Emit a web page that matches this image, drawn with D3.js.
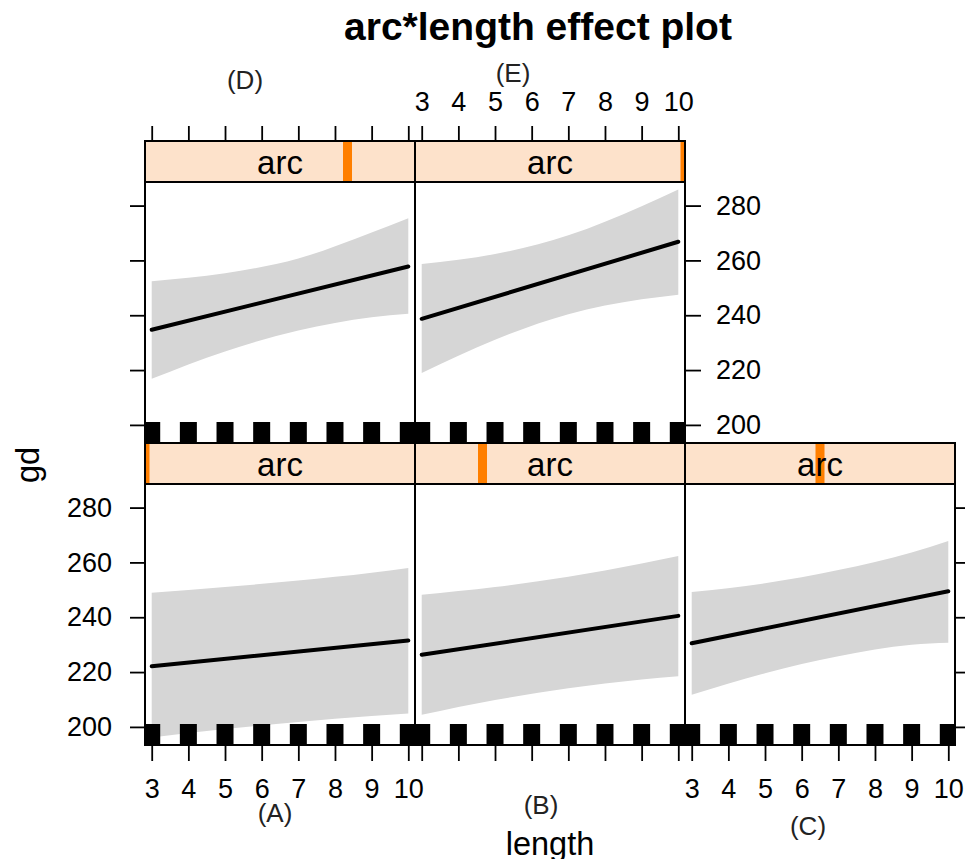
<!DOCTYPE html>
<html>
<head>
<meta charset="utf-8">
<script src="https://cdn.jsdelivr.net/npm/d3@7"></script>
<style>
  html, body { margin: 0; padding: 0; background: #fff; }
  svg { display: block; font-family: "Liberation Sans", Arial, Helvetica, sans-serif; }
</style>
</head>
<body>
<svg id="chart" width="965" height="859"></svg>
<script>
// ---------------- data ----------------
const lengthTicks = [3, 4, 5, 6, 7, 8, 9, 10];
const gdTicks = [200, 220, 240, 260, 280];
const rugLength = [3, 4, 5, 6, 7, 8, 9, 10];
const panelNames = ["A", "B", "C", "D", "E"];
const arcLevel = [0, 0.25, 0.5, 0.75, 1];   // position of arc value within its range
const fitX = [3, 10];
const fitA = [222.1, 231.5];
const fitB = [226.3, 240.5];
const fitC = [230.5, 249.5];
const fitD = [234.7, 257.8];
const fitE = [238.7, 266.8];
const bandX = [3, 5, 7, 9, 10];
const upperA = [248.9, 251.0, 253.4, 256.2, 258.0];
const lowerA = [196.1, 199.2, 201.8, 204.0, 204.9];
const upperB = [248.2, 251.0, 254.8, 259.6, 262.3];
const lowerB = [204.4, 209.8, 214.1, 217.3, 218.5];
const upperC = [249.2, 252.4, 257.2, 263.6, 267.8];
const lowerC = [211.7, 219.6, 225.8, 230.0, 230.7];
const upperD = [252.4, 255.3, 260.7, 270.2, 275.4];
const lowerD = [216.8, 226.8, 234.4, 239.3, 240.5];
const upperE = [258.7, 262.3, 269.2, 279.8, 285.9];
const lowerE = [218.9, 231.1, 240.4, 245.8, 247.5];

const fits = [fitA, fitB, fitC, fitD, fitE];
const uppers = [upperA, upperB, upperC, upperD, upperE];
const lowers = [lowerA, lowerB, lowerC, lowerD, lowerE];

// ---------------- layout ----------------
const svg = d3.select("#chart");
const colX = [145, 415, 685];
const panelW = 270, panelH = 261, stripH = 41;
const rowStripY = [443, 141]; // row 0 = bottom, row 1 = top
// panel index -> [col,row]
const pos = [[0,0],[1,0],[2,0],[0,1],[1,1]];

const x = d3.scaleLinear().domain([2.817, 10.183]).range([0, panelW]);
const y = d3.scaleLinear().domain([193.4, 288.6]).range([panelH, 0]);
const arcScale = d3.scaleLinear().domain([0, 1]).range([0, panelW]);

const font = "'Liberation Sans', Arial, Helvetica, sans-serif";

const defs = svg.append("defs");

panelNames.forEach((name, i) => {
  const [c, r] = pos[i];
  const x0 = colX[c];
  const sy = rowStripY[r];
  const py = sy + stripH;
  const g = svg.append("g").attr("transform", `translate(${x0},${py})`);

  defs.append("clipPath").attr("id", "clip" + i)
    .append("rect").attr("x", 0).attr("y", 0).attr("width", panelW).attr("height", panelH);
  defs.append("clipPath").attr("id", "sclip" + i)
    .append("rect").attr("x", 0).attr("y", 0).attr("width", panelW).attr("height", stripH);

  const inner = g.append("g").attr("clip-path", `url(#clip${i})`);
  const bandData = bandX.map((bx, k) => ({ x: bx, lo: lowers[i][k], hi: uppers[i][k] }));
  inner.append("path")
    .datum(bandData)
    .attr("fill", "#d6d6d6")
    .attr("d", d3.area().curve(d3.curveMonotoneX)
      .x(d => x(d.x)).y0(d => y(d.lo)).y1(d => y(d.hi)));
  inner.append("path")
    .datum(fitX.map((fx, k) => ({ x: fx, v: fits[i][k] })))
    .attr("fill", "none").attr("stroke", "#000").attr("stroke-width", 4)
    .attr("stroke-linecap", "round")
    .attr("d", d3.line().x(d => x(d.x)).y(d => y(d.v)));
  inner.selectAll("rect.rug").data(rugLength).join("rect")
    .attr("class", "rug")
    .attr("x", d => x(d) - 8.5).attr("width", 17)
    .attr("y", panelH - 21).attr("height", 21)
    .attr("fill", "#000");
  g.append("rect").attr("width", panelW).attr("height", panelH)
    .attr("fill", "none").attr("stroke", "#000").attr("stroke-width", 2);

  // strip
  const sg = svg.append("g").attr("transform", `translate(${x0},${sy})`);
  sg.append("rect").attr("width", panelW).attr("height", stripH).attr("fill", "#fde2cb");
  sg.append("g").attr("clip-path", `url(#sclip${i})`)
    .append("rect")
    .attr("x", arcScale(arcLevel[i]) - 4.5).attr("width", 9)
    .attr("y", 0).attr("height", stripH).attr("fill", "#ff7f00");
  sg.append("text").attr("x", panelW / 2).attr("y", 33)
    .attr("text-anchor", "middle").attr("font-size", 33).attr("fill", "#000")
    .text("arc");
  sg.append("rect").attr("width", panelW).attr("height", stripH)
    .attr("fill", "none").attr("stroke", "#000").attr("stroke-width", 2);
});

// ---------------- axes ----------------
function styleAxis(sel) {
  sel.select(".domain").remove();
  sel.selectAll(".tick line").attr("stroke", "#000").attr("stroke-width", 1.8);
  sel.selectAll(".tick text").attr("fill", "#000").attr("font-size", 27).attr("font-family", font);
}
// bottom axes (row 0, y bottom = 745)
const bottomY = rowStripY[0] + stripH + panelH;
[0, 1, 2].forEach(c => {
  const ax = d3.axisBottom(x).tickValues(lengthTicks).tickSize(16).tickPadding(18);
  if (c === 1) ax.tickFormat("");
  svg.append("g").attr("transform", `translate(${colX[c]},${bottomY})`).call(ax).call(styleAxis);
});
// top axes (row 1, y top = 141)
[0, 1].forEach(c => {
  const ax = d3.axisTop(x).tickValues(lengthTicks).tickSize(15).tickPadding(15.5);
  if (c === 0) ax.tickFormat("");
  svg.append("g").attr("transform", `translate(${colX[c]},${rowStripY[1]})`).call(ax).call(styleAxis);
});
// left axes
[[0, true], [1, false]].forEach(([r, lab]) => {
  const ax = d3.axisLeft(y).tickValues(gdTicks).tickSize(15).tickPadding(18);
  if (!lab) ax.tickFormat("");
  svg.append("g").attr("transform", `translate(${colX[0]},${rowStripY[r] + stripH})`).call(ax).call(styleAxis);
});
// right axes
{
  const ax = d3.axisRight(y).tickValues(gdTicks).tickSize(16).tickPadding(15);
  svg.append("g").attr("transform", `translate(${colX[1] + panelW},${rowStripY[1] + stripH})`).call(ax).call(styleAxis);
  const ax2 = d3.axisRight(y).tickValues(gdTicks).tickSize(16).tickFormat("");
  svg.append("g").attr("transform", `translate(${colX[2] + panelW},${rowStripY[0] + stripH})`).call(ax2).call(styleAxis);
}

// ---------------- titles ----------------
svg.append("text").attr("x", 538).attr("y", 40).attr("text-anchor", "middle")
  .attr("font-size", 39).attr("font-weight", "bold").attr("fill", "#000")
  .text("arc*length effect plot");
svg.append("text").attr("x", 550).attr("y", 855).attr("text-anchor", "middle")
  .attr("font-size", 32.5).attr("fill", "#000").text("length");
svg.append("text").attr("transform", "translate(39,465) rotate(-90)").attr("text-anchor", "middle")
  .attr("font-size", 32.5).attr("fill", "#000").text("gd");

// sub-figure labels
const subLabels = ["(A)", "(B)", "(C)", "(D)", "(E)"];
const subLabelX = [275, 541, 808, 245, 513];
const subLabelY = [813, 805, 826, 80, 73];
subLabels.forEach((t, i) => {
  svg.append("text").attr("x", subLabelX[i]).attr("y", subLabelY[i])
    .attr("text-anchor", "middle").attr("dominant-baseline", "central")
    .attr("font-size", 26).attr("fill", "#222").text(t);
});
</script>
</body>
</html>
